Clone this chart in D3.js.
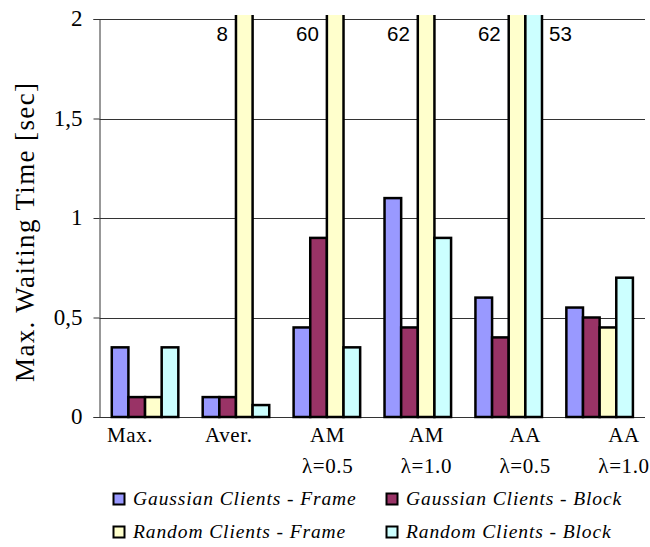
<!DOCTYPE html>
<html>
<head>
<meta charset="utf-8">
<script src="https://cdn.jsdelivr.net/npm/d3@7"></script>
<style>
  html, body { margin: 0; padding: 0; background: #fff; }
  svg { display: block; }
  .serif { font-family: "Liberation Serif", "Times New Roman", Times, "DejaVu Serif", serif; }
  .sans { font-family: "Liberation Sans", Arial, Helvetica, sans-serif; }
</style>
</head>
<body>
<svg id="chart" width="650" height="547"></svg>
<script>
// Scheduling strategies along the x axis (two-line labels)
const categories = ["Max.", "Aver.", "AM λ=0.5", "AM λ=1.0", "AA λ=0.5", "AA λ=1.0"];
const categoryLines = [["Max."], ["Aver."], ["AM", "λ=0.5"], ["AM", "λ=1.0"], ["AA", "λ=0.5"], ["AA", "λ=1.0"]];

// Client / transfer combinations
const seriesNames = [
  "Gaussian Clients - Frame",
  "Gaussian Clients - Block",
  "Random Clients - Frame",
  "Random Clients - Block"
];
const seriesColors = ["#9999FF", "#993366", "#FFFFCC", "#CCFFFF"];

// Maximum waiting time in seconds, one array per series (index = category)
const gaussianFrame = [0.35, 0.10, 0.45, 1.10, 0.60, 0.55];
const gaussianBlock = [0.10, 0.10, 0.90, 0.45, 0.40, 0.50];
const randomFrame   = [0.10, 8,    60,   62,   62,   0.45];
const randomBlock   = [0.35, 0.06, 0.35, 0.90, 53,   0.70];
const seriesValues = [gaussianFrame, gaussianBlock, randomFrame, randomBlock];

const yTicks = [0, 0.5, 1, 1.5, 2];
const yTickLabels = ["0", "0,5", "1", "1,5", "2"];

const svg = d3.select("#chart");
const plot = { left: 99.5, right: 645, top: 19, bottom: 417 };

const y = d3.scaleLinear().domain([0, 2]).range([plot.bottom, plot.top]);
const x = d3.scaleBand().domain(categories).range([plot.left, plot.right]).padding(0);
const x1 = d3.scaleBand().domain(d3.range(seriesNames.length))
  .range([x.bandwidth() * 0.135, x.bandwidth() * 0.867]).padding(0);
// category text is laid out on its own spacing under the groups
const xLabel = d3.scalePoint().domain(categories).range([130, 624]);

// horizontal gridlines
svg.append("g")
  .selectAll("line")
  .data(yTicks)
  .join("line")
  .attr("x1", plot.left).attr("x2", plot.right)
  .attr("y1", d => Math.round(y(d)) + 0.5).attr("y2", d => Math.round(y(d)) + 0.5)
  .attr("stroke", "#333").attr("stroke-width", 1);

// y axis
const yAxis = d3.axisLeft(y).tickValues(yTicks)
  .tickFormat((d, i) => yTickLabels[i]).tickSize(6).tickPadding(11);
const gy = svg.append("g").attr("transform", `translate(${plot.left},0)`).call(yAxis);
gy.attr("font-family", null).attr("font-size", null);
gy.select(".domain").attr("stroke", "#333");
gy.selectAll(".tick line").attr("stroke", "#333");
gy.selectAll(".tick text")
  .attr("class", "serif")
  .attr("dy", "0.3em")
  .style("font-size", "23px").attr("fill", "#000");

// y title
svg.append("text")
  .attr("class", "serif")
  .attr("transform", "translate(34,232.5) rotate(-90)")
  .attr("text-anchor", "middle")
  .attr("textLength", 299)
  .attr("lengthAdjust", "spacing")
  .style("font-size", "27px")
  .text("Max. Waiting Time [sec]");

// bars, cut off just above the top of the value range
svg.append("defs").append("clipPath").attr("id", "barclip")
  .append("rect").attr("x", 0).attr("y", plot.top - 4)
  .attr("width", 650).attr("height", plot.bottom - plot.top + 10);

const bars = [];
seriesValues.forEach((vals, s) => {
  vals.forEach((v, c) => bars.push({ s, c, v }));
});
const yTop = y.domain()[1];
svg.append("g").attr("clip-path", "url(#barclip)")
  .selectAll("rect")
  .data(bars)
  .join("rect")
  .attr("x", d => x(categories[d.c]) + x1(d.s))
  .attr("width", x1.bandwidth())
  .attr("y", d => d.v > yTop ? plot.top - 10 : y(d.v))
  .attr("height", d => (d.v > yTop ? plot.bottom + 10 - plot.top : plot.bottom - y(d.v)))
  .attr("fill", d => seriesColors[d.s])
  .attr("stroke", "#000").attr("stroke-width", 2.5);

// value labels for bars running off the top
const offLabels = bars.filter(d => d.v > yTop);
svg.append("g")
  .selectAll("text")
  .data(offLabels)
  .join("text")
  .attr("class", "sans")
  .attr("x", d => {
    const bx = x(categories[d.c]) + x1(d.s);
    // the last bar of the rightmost tall pair is labelled on its right side
    return d.s === 3 ? bx + x1.bandwidth() + 7 : bx - 8;
  })
  .attr("y", 41)
  .attr("text-anchor", d => d.s === 3 ? "start" : "end")
  .style("font-size", "20.5px")
  .text(d => d3.format("d")(d.v));

// category labels
const gx = svg.append("g");
categories.forEach((cat, i) => {
  const t = gx.append("text")
    .attr("class", "serif")
    .attr("x", xLabel(cat))
    .attr("text-anchor", "middle")
    .style("font-size", "21px")
    .style("letter-spacing", "0.6px");
  categoryLines[i].forEach((line, j) => {
    t.append("tspan").attr("x", xLabel(cat)).attr("y", 442 + j * 31).text(line);
  });
});

// legend
const legendPos = [
  { x: 113, y: 493 }, { x: 386, y: 493 },
  { x: 113, y: 526 }, { x: 386, y: 526 }
];
const lg = svg.append("g")
  .selectAll("g")
  .data(seriesNames)
  .join("g")
  .attr("transform", (d, i) => `translate(${legendPos[i].x},${legendPos[i].y})`);
lg.append("rect")
  .attr("x", 0.5).attr("y", 0.5).attr("width", 11).attr("height", 11)
  .attr("fill", (d, i) => seriesColors[i])
  .attr("stroke", "#000").attr("stroke-width", 2);
lg.append("text")
  .attr("class", "serif")
  .attr("x", 20).attr("y", 12)
  .style("font-style", "italic")
  .style("font-size", "19.5px")
  .style("letter-spacing", "0.9px")
  .text(d => d);
</script>
</body>
</html>
